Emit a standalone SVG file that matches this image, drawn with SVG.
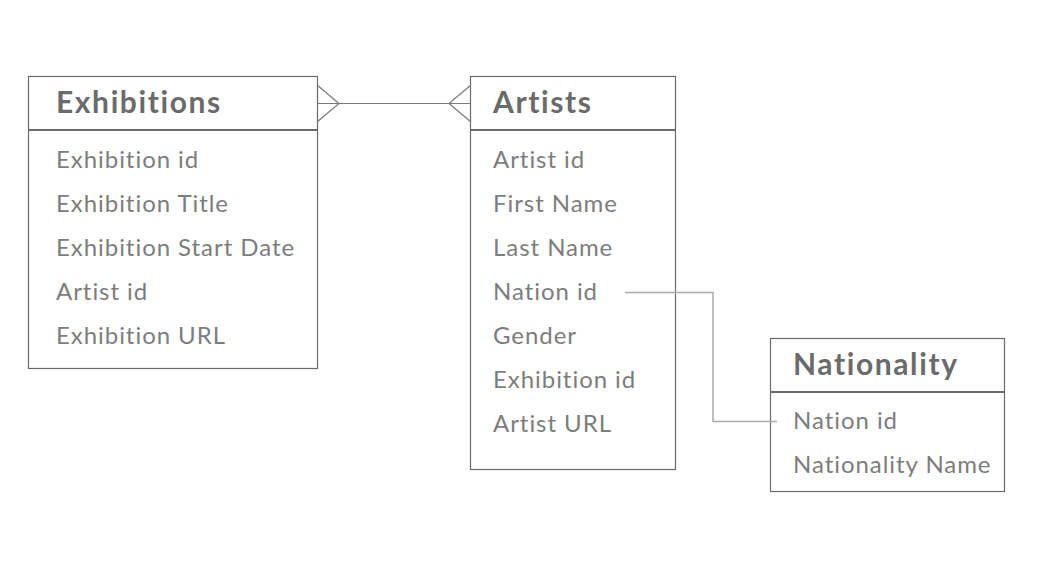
<svg xmlns="http://www.w3.org/2000/svg" width="1060" height="565" viewBox="0 0 1060 565">
<style>
.box{fill:#fff;stroke:#6b6b6b;stroke-width:1.2}
.div{stroke:#6b6b6b;stroke-width:2}
.title{font-family:Lato,"Open Sans",sans-serif;font-weight:bold;font-size:30px;letter-spacing:1.6px;fill:#6b6b6b}
.item{font-family:Lato,"Open Sans",sans-serif;font-size:24px;letter-spacing:0.95px;fill:#7d7d7d}
.conn{fill:none;stroke:#7a7a7a;stroke-width:1.2}
.conn2{fill:none;stroke:#aaaaaa;stroke-width:1.5}
</style>
<rect width="1060" height="565" fill="#fff"/>
<g id="exhibitions">
<rect class="box" x="28.5" y="76.5" width="289" height="292"/>
<line class="div" x1="28" y1="130" x2="318" y2="130"/>
<text class="title" x="56" y="113">Exhibitions</text>
<text class="item" x="56" y="168">Exhibition id</text>
<text class="item" x="56" y="212">Exhibition Title</text>
<text class="item" x="56" y="256">Exhibition Start Date</text>
<text class="item" x="56" y="300">Artist id</text>
<text class="item" x="56" y="344">Exhibition URL</text>
</g>
<g id="artists">
<rect class="box" x="470.5" y="76.5" width="205" height="393"/>
<line class="div" x1="470" y1="130" x2="676" y2="130"/>
<text class="title" x="493" y="113">Artists</text>
<text class="item" x="493" y="168">Artist id</text>
<text class="item" x="493" y="212">First Name</text>
<text class="item" x="493" y="256">Last Name</text>
<text class="item" x="493" y="300">Nation id</text>
<text class="item" x="493" y="344">Gender</text>
<text class="item" x="493" y="388">Exhibition id</text>
<text class="item" x="493" y="432">Artist URL</text>
</g>
<g id="nationality">
<rect class="box" x="770.5" y="338.5" width="234" height="153"/>
<line class="div" x1="770" y1="392" x2="1005" y2="392"/>
<text class="title" x="793" y="375">Nationality</text>
<text class="item" x="793" y="429">Nation id</text>
<text class="item" x="793" y="473">Nationality Name</text>
</g>
<g id="connectors">
<path class="conn" d="M317 103.5H471M317 85L339 103.5L317 122M471 85L449 103.5L471 122"/>
<path class="conn2" d="M625 292.5H713V421.5H777"/>
</g>
</svg>
